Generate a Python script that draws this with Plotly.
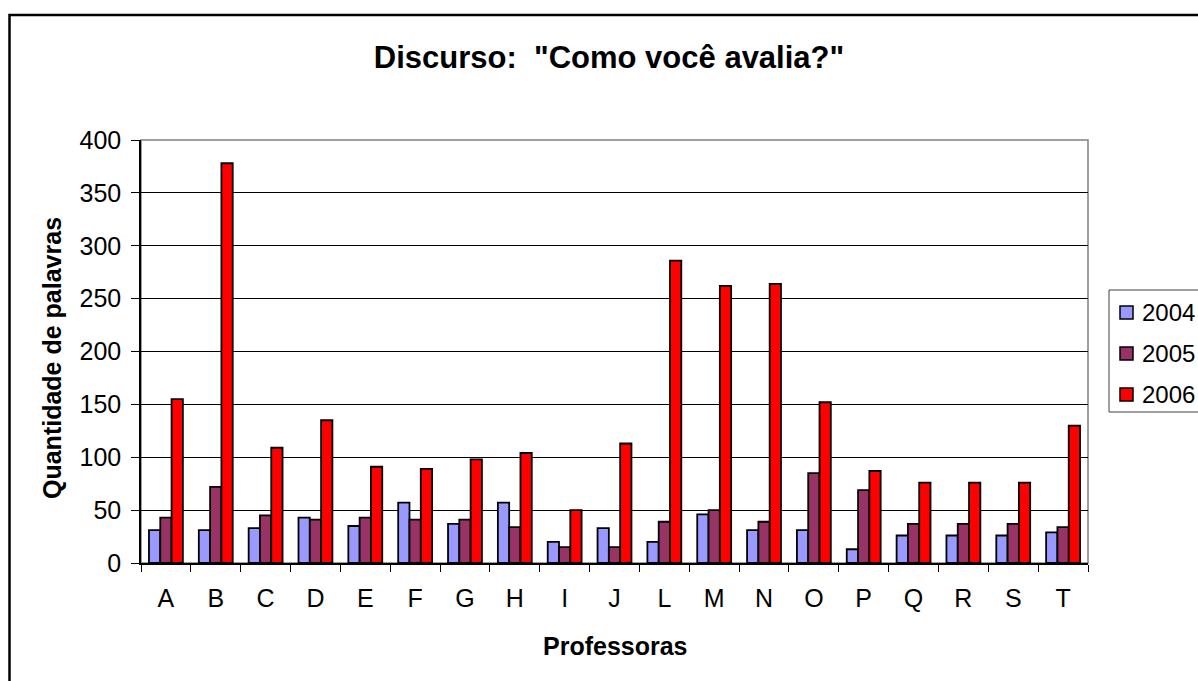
import plotly.graph_objects as go

categories = ["A", "B", "C", "D", "E", "F", "G", "H", "I", "J", "L", "M", "N", "O", "P", "Q", "R", "S", "T"]
v2004 = [31, 31, 33, 43, 35, 57, 37, 57, 20, 33, 20, 46, 31, 31, 13, 26, 26, 26, 29]
v2005 = [43, 72, 45, 41, 43, 41, 41, 34, 15, 15, 39, 50, 39, 85, 69, 37, 37, 37, 34]
v2006 = [155, 378, 109, 135, 91, 89, 98, 104, 50, 113, 286, 262, 264, 152, 87, 76, 76, 76, 130]
series_names = ["2004", "2005", "2006"]
series_colors = ["#9999FF", "#993366", "#FF0000"]

FONT = "Liberation Sans, Arial, sans-serif"

W, H = 1198, 681
# plot area in page pixels: x 141..1088, y 140..563
L, T = 141, 140
R, B = W - 1088, H - 563
PW, PH = W - L - R, H - T - B

def px_x(x):
    return (x - L) / PW

def px_y(y):
    return (H - B - y) / PH

fig = go.Figure()
for name, vals, col in zip(series_names, [v2004, v2005, v2006], series_colors):
    fig.add_trace(go.Bar(
        x=categories, y=vals, name=name, showlegend=False,
        marker=dict(color=col, line=dict(color="black", width=1.8)),
    ))

shapes = [
    dict(type="rect", xref="paper", yref="paper", x0=0, x1=1, y0=0, y1=1,
         line=dict(color="#808080", width=1.5), layer="below"),
    dict(type="rect", xref="paper", yref="paper", x0=px_x(9.5), x1=px_x(1215),
         y0=px_y(700), y1=px_y(15), line=dict(color="black", width=2.5), layer="below"),
    # legend box
    dict(type="rect", xref="paper", yref="paper", x0=px_x(1109), x1=px_x(1240),
         y0=px_y(412), y1=px_y(290), line=dict(color="#404040", width=1),
         fillcolor="white", layer="above"),
]
annotations = [
    dict(text="<b>Quantidade de palavras</b>", textangle=-90, xref="paper", yref="paper",
         x=px_x(52), y=px_y(358), xanchor="center", yanchor="middle", showarrow=False,
         font=dict(family=FONT, size=25, color="black")),
    dict(text="<b>Professoras</b>", xref="paper", yref="paper",
         x=px_x(615), y=px_y(646), xanchor="center", yanchor="middle", showarrow=False,
         font=dict(family=FONT, size=25, color="black")),
]
# legend drawn as shapes + text so it sits exactly like the reference
legend_centers = [312.5, 353.5, 394.5]
for name, col, cy in zip(series_names, series_colors, legend_centers):
    shapes.append(dict(type="rect", xref="paper", yref="paper",
                       x0=px_x(1120), x1=px_x(1133), y0=px_y(cy + 6.5), y1=px_y(cy - 6.5),
                       line=dict(color="black", width=1.5), fillcolor=col, layer="above"))
    annotations.append(dict(text=name, xref="paper", yref="paper", x=px_x(1140), y=px_y(cy),
                            xanchor="left", yanchor="middle", showarrow=False,
                            font=dict(family=FONT, size=24, color="black")))

fig.update_layout(
    width=W, height=H,
    margin=dict(l=L, r=R, t=T, b=B, pad=0, autoexpand=False),
    paper_bgcolor="white", plot_bgcolor="white",
    barmode="group", bargap=0.32, bargroupgap=0,
    showlegend=False,
    font=dict(family=FONT, size=25, color="black"),
    title=dict(text='<b>Discurso:  "Como você avalia?"</b>', x=609 / W, xanchor="center",
               y=1 - 57 / H, yanchor="middle", yref="container",
               font=dict(family=FONT, size=31, color="black")),
    xaxis=dict(type="category", tickson="boundaries", ticks="outside", ticklen=7,
               tickcolor="black", tickwidth=1, showline=True, linecolor="black", linewidth=1.5,
               showgrid=False, tickfont=dict(family=FONT, size=25), ticklabelstandoff=12),
    yaxis=dict(range=[0, 400], dtick=50, ticks="outside", ticklen=8, tickcolor="black",
               showline=True, linecolor="black", linewidth=1.5, showgrid=True,
               gridcolor="black", gridwidth=1, zeroline=False,
               tickfont=dict(family=FONT, size=25), ticklabelstandoff=5),
    shapes=shapes,
    annotations=annotations,
)

fig.write_html(
    "out.html",
    config={"displayModeBar": False},
    post_script="document.body.style.margin='0';document.body.style.overflow='hidden';",
)
